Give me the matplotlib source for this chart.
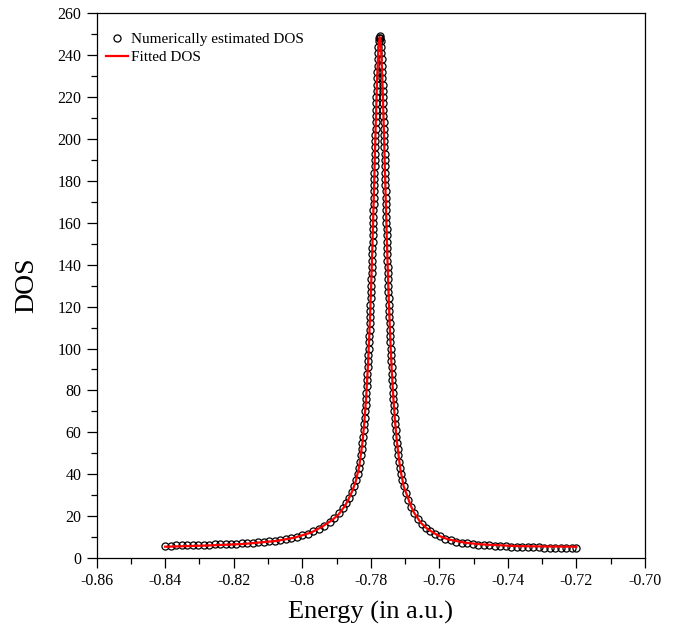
import matplotlib
matplotlib.use('Agg')
import matplotlib.pyplot as plt
from matplotlib.ticker import MultipleLocator

# numerically estimated DOS (open circles)
energy = [
    -0.8400, -0.8384, -0.8368, -0.8352, -0.8336, -0.8320, -0.8304, -0.8288, -0.8272, -0.8256,
    -0.8240, -0.8224, -0.8208, -0.8192, -0.8176, -0.8160, -0.8144, -0.8128, -0.8112, -0.8096,
    -0.8080, -0.8064, -0.8048, -0.8032, -0.8016, -0.8000, -0.7984, -0.7968, -0.7952, -0.7936,
    -0.7920, -0.7906, -0.7893, -0.7882, -0.7872, -0.7863, -0.7855, -0.7848, -0.7842,
    -0.78380, -0.78336, -0.78310, -0.78286, -0.78264, -0.78244, -0.78226, -0.78209, -0.78193, -0.78179,
    -0.78165, -0.78152, -0.78140, -0.78128, -0.78117, -0.78107, -0.78097, -0.78087, -0.78078, -0.78069,
    -0.78061, -0.78052, -0.78045, -0.78037, -0.78030, -0.78023, -0.78016, -0.78009, -0.78002, -0.77996,
    -0.77990, -0.77984, -0.77978, -0.77972, -0.77966, -0.77961, -0.77955, -0.77950, -0.77944, -0.77939,
    -0.77934, -0.77929, -0.77924, -0.77919, -0.77914, -0.77909, -0.77904, -0.77899, -0.77894, -0.77889,
    -0.77885, -0.77880, -0.77875, -0.77870, -0.77865, -0.77860, -0.77855, -0.77850, -0.77845, -0.77839,
    -0.77834, -0.77828, -0.77823, -0.77816, -0.77810, -0.77803, -0.77796, -0.77787, -0.77777, -0.77763,
    -0.77752, -0.77740, -0.77728,
    -0.77717, -0.77703, -0.77693, -0.77684, -0.77677, -0.77670, -0.77664, -0.77657, -0.77652, -0.77646,
    -0.77641, -0.77635, -0.77630, -0.77625, -0.77620, -0.77615, -0.77610, -0.77605, -0.77600, -0.77595,
    -0.77591, -0.77586, -0.77581, -0.77576, -0.77571, -0.77566, -0.77561, -0.77556, -0.77551, -0.77546,
    -0.77541, -0.77536, -0.77530, -0.77525, -0.77519, -0.77514, -0.77508, -0.77502, -0.77496, -0.77490,
    -0.77484, -0.77478, -0.77471, -0.77464, -0.77457, -0.77450, -0.77443, -0.77435, -0.77428, -0.77419,
    -0.77411, -0.77402, -0.77393, -0.77383, -0.77373, -0.77363, -0.77352, -0.77340, -0.77328, -0.77315,
    -0.77301, -0.77287, -0.77271, -0.77254, -0.77236, -0.77216, -0.77194, -0.77170, -0.77144, -0.77114,
    -0.7709, -0.7703, -0.7697, -0.7690, -0.7682, -0.7673, -0.7663, -0.7652, -0.7640, -0.7627,
    -0.7613, -0.7598, -0.7582, -0.7566, -0.7550, -0.7534, -0.7518, -0.7502, -0.7486, -0.7470,
    -0.7454, -0.7438, -0.7422, -0.7406, -0.7390, -0.7374, -0.7358, -0.7342, -0.7326, -0.7310,
    -0.7294, -0.7278, -0.7262, -0.7246, -0.7230, -0.7214, -0.7200,
]
dos = [
    5.90, 5.96, 6.02, 6.08, 6.13, 6.19, 6.25, 6.32, 6.40, 6.48,
    6.57, 6.68, 6.78, 6.88, 6.98, 7.15, 7.35, 7.55, 7.75, 7.98,
    8.25, 8.60, 9.10, 9.55, 10.15, 10.9, 11.7, 12.7, 13.9, 15.4,
    17.2, 19.2, 21.5, 23.8, 26.2, 28.8, 31.5, 34.5, 37.3,
    40, 43, 46, 49, 52, 55, 58, 61, 64, 67,
    70, 73, 76, 79, 82, 85, 88, 91, 94, 97,
    100, 103, 106, 109, 112, 115, 118, 121, 124, 127,
    130, 133, 136, 139, 142, 145, 148, 151, 154, 157,
    160, 163, 166, 169, 172, 175, 178, 181, 184, 187,
    190, 193, 196, 199, 202, 205, 208, 211, 214, 217,
    220, 223, 226, 229, 232, 235, 238, 241, 244, 247,
    248.3, 249.0, 248.3,
    247, 244, 241, 238, 235, 232, 229, 226, 223, 220,
    217, 214, 211, 208, 205, 202, 199, 196, 193, 190,
    187, 184, 181, 178, 175, 172, 169, 166, 163, 160,
    157, 154, 151, 148, 145, 142, 139, 136, 133, 130,
    127, 124, 121, 118, 115, 112, 109, 106, 103, 100,
    97, 94, 91, 88, 85, 82, 79, 76, 73, 70,
    67, 64, 61, 58, 55, 52, 49, 46, 43, 40,
    37.3, 34.3, 31.2, 27.8, 24.4, 21.4, 18.7, 16.4, 14.5, 12.9,
    11.5, 10.3, 9.3, 8.5, 7.9, 7.4, 7.0, 6.7, 6.45, 6.25,
    6.05, 5.87, 5.70, 5.58, 5.46, 5.35, 5.27, 5.20, 5.13, 5.06,
    5.00, 4.93, 4.86, 4.79, 4.72, 4.66, 4.60,
]

# fitted DOS (red line)
fit_energy = [
    -0.8400, -0.8274, -0.8174, -0.8074, -0.8024, -0.7974, -0.7944, -0.7914, -0.7894, -0.7874,
    -0.7864, -0.7854, -0.7844, -0.7834, -0.7824, -0.7819, -0.7814, -0.7809, -0.7804, -0.7799,
    -0.7794, -0.7790, -0.7786, -0.7782, -0.7778, -0.7774,
    -0.7770, -0.7766, -0.7762, -0.7758, -0.7754, -0.7749, -0.7744, -0.7739, -0.7734, -0.7729,
    -0.7724, -0.7714, -0.7704, -0.7694, -0.7684, -0.7674, -0.7654, -0.7634, -0.7604, -0.7574,
    -0.7524, -0.7474, -0.7374, -0.7274, -0.7200,
]
fit_dos = [
    5.4, 6.0, 6.7, 8.2, 9.7, 12.2, 14.8, 18.0, 20.8, 25.3,
    28.5, 32.0, 36.6, 43.5, 55.6, 64.6, 75.8, 89.9, 107.7, 129.8,
    156.4, 180.3, 204.9, 227.1, 243.0, 248.7,
    243.0, 227.1, 204.9, 180.3, 156.4, 129.8, 107.7, 89.9, 75.8, 64.6,
    55.6, 42.5, 34.2, 29.8, 25.2, 21.7, 16.8, 13.8, 10.8, 8.9,
    7.3, 6.5, 5.7, 5.5, 5.4,
]

x_ticks = [-0.86, -0.84, -0.82, -0.80, -0.78, -0.76, -0.74, -0.72, -0.70]
x_ticklabels = ['-0.86', '-0.84', '-0.82', '-0.8', '-0.78', '-0.76', '-0.74', '-0.72', '-0.70']
y_ticks = list(range(0, 261, 20))

plt.rcParams['font.family'] = ['Liberation Serif', 'DejaVu Serif']

fig = plt.figure(figsize=(6.81, 6.32), dpi=100)
ax = fig.add_axes([0.142, 0.117, 0.805, 0.862])

ax.plot(energy, dos, linestyle='none', marker='o', markersize=5.1,
        markerfacecolor='none', markeredgecolor='black', markeredgewidth=0.9,
        label='Numerically estimated DOS', zorder=2)
ax.plot(fit_energy, fit_dos, color='red', linewidth=1.6, label='Fitted DOS', zorder=3)

ax.set_xlim(-0.86, -0.70)
ax.set_ylim(0, 260)
ax.set_xticks(x_ticks)
ax.set_xticklabels(x_ticklabels)
ax.set_yticks(y_ticks)
ax.xaxis.set_minor_locator(MultipleLocator(0.01))
ax.yaxis.set_minor_locator(MultipleLocator(10))
ax.tick_params(which='major', direction='out', length=7.5, width=0.9, labelsize=11.5,
               top=False, right=False)
ax.tick_params(which='minor', direction='out', length=4.3, width=0.9, top=False, right=False)
for s in ax.spines.values():
    s.set_linewidth(0.9)

ax.set_xlabel('Energy (in a.u.)', fontsize=19, labelpad=8)
ax.set_ylabel('DOS', fontsize=20, labelpad=13)

ax.legend(loc='upper left', bbox_to_anchor=(0.0, 0.982), frameon=False, fontsize=11,
          handlelength=1.45, handletextpad=0.2, borderaxespad=0.2, labelspacing=0.3)

fig.savefig('out.png', dpi=100)
